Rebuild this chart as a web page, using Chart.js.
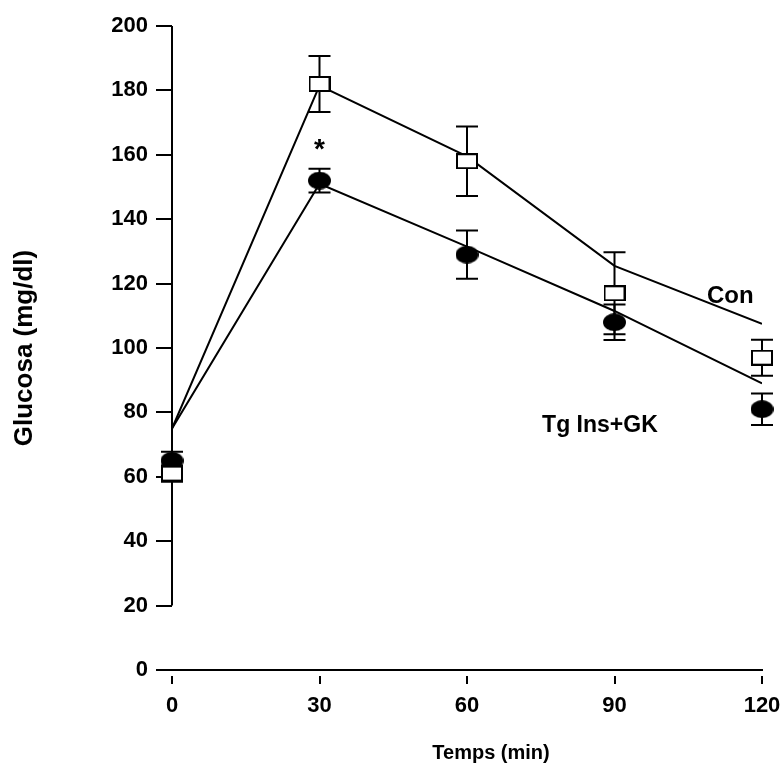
<!DOCTYPE html>
<html>
<head>
<meta charset="utf-8">
<script src="https://cdn.jsdelivr.net/npm/chart.js@4.4.1/dist/chart.umd.min.js"></script>
<style>
  html, body { margin: 0; padding: 0; background: #fff; }
  #wrap { width: 782px; height: 773px; }
</style>
</head>
<body>
<div id="wrap"><canvas id="glucoseChart"></canvas></div>
<script>
// sampling times (min)
const times = [0, 30, 60, 90, 120];
// Con group: mean and error bar
const conMean = [61, 182, 158, 117, 97];
const conErr = [2.5, 8.7, 10.8, 12.7, 5.6];
// Tg Ins+GK group: mean and error bar
const tgMean = [65, 152, 129, 108, 81];
const tgErr = [2.8, 3.7, 7.5, 5.5, 4.9];
// the drawn curves (they do not go through the points)
const conCurve = [75, 181.5, 159.5, 125.5, 107.5];
const tgCurve = [75, 151, 131.5, 111.5, 89];
// axis ticks
const xTicks = [0, 30, 60, 90, 120];
const yTicks = [0, 20, 40, 60, 80, 100, 120, 140, 160, 180, 200];

const FONT = "'Liberation Sans', Arial, sans-serif";

// open box marker for Con
function makeBox() {
  const c = document.createElement('canvas');
  c.width = 22; c.height = 16;
  const g = c.getContext('2d');
  g.fillStyle = '#fff';
  g.fillRect(1, 1, 20, 14);
  g.lineWidth = 2;
  g.strokeStyle = '#000';
  g.strokeRect(1, 1, 20, 14);
  return c;
}

// filled oval marker for Tg
function makeDot() {
  const c = document.createElement('canvas');
  c.width = 23; c.height = 18;
  const g = c.getContext('2d');
  g.fillStyle = '#000';
  g.beginPath();
  g.ellipse(11.5, 9, 11.5, 9, 0, 0, 2 * Math.PI);
  g.fill();
  return c;
}

function pts(vals) {
  return times.map((t, i) => ({ x: t, y: vals[i] }));
}

// error bars + broken y axis, drawn under the markers
const errorBars = {
  id: 'errorBars',
  beforeDatasetsDraw(chart) {
    const ctx = chart.ctx;
    const x = chart.scales.x, y = chart.scales.y;
    ctx.save();
    ctx.strokeStyle = '#000';
    ctx.lineWidth = 2;
    ctx.beginPath();
    ctx.moveTo(x.getPixelForValue(0), y.getPixelForValue(200));
    ctx.lineTo(x.getPixelForValue(0), y.getPixelForValue(20));
    ctx.stroke();
    [[conMean, conErr], [tgMean, tgErr]].forEach(function(pair) {
      const m = pair[0], e = pair[1];
      times.forEach(function(t, i) {
        const px = x.getPixelForValue(t);
        const top = y.getPixelForValue(m[i] + e[i]);
        const bot = y.getPixelForValue(m[i] - e[i]);
        ctx.beginPath();
        ctx.moveTo(px, top); ctx.lineTo(px, bot);
        ctx.moveTo(px - 11, top); ctx.lineTo(px + 11, top);
        ctx.moveTo(px - 11, bot); ctx.lineTo(px + 11, bot);
        ctx.stroke();
      });
    });
    ctx.restore();
  }
};

// text labels inside the plot
const notes = [
  { text: '*', t: 30, v: 161.5, align: 'center', size: 28 },
  { text: 'Con', t: 108.8, v: 116, align: 'left', size: 24 },
  { text: 'Tg Ins+GK', t: 98.8, v: 76, align: 'right', size: 23 }
];
const noteLabels = {
  id: 'noteLabels',
  afterDatasetsDraw(chart) {
    const ctx = chart.ctx;
    const x = chart.scales.x, y = chart.scales.y;
    const area = chart.chartArea;
    ctx.save();
    ctx.fillStyle = '#000';
    ctx.textBaseline = 'middle';
    notes.forEach(function(n) {
      ctx.font = 'bold ' + n.size + 'px ' + FONT;
      ctx.textAlign = n.align;
      ctx.fillText(n.text, x.getPixelForValue(n.t), y.getPixelForValue(n.v));
    });
    // x axis title, sits a bit right of centre in the original
    ctx.font = 'bold 20px ' + FONT;
    ctx.textAlign = 'center';
    ctx.fillText('Temps (min)', (area.left + area.right) / 2 + 24, 753);
    ctx.restore();
  }
};

const ctx = document.getElementById('glucoseChart').getContext('2d');
const chart = new Chart(ctx, {
  type: 'line',
  data: {
    datasets: [
      {
        label: 'Con',
        data: pts(conMean),
        showLine: false,
        pointStyle: makeBox(),
        pointRadius: 10,
        clip: false,
        order: 0
      },
      {
        label: 'Tg Ins+GK',
        data: pts(tgMean),
        showLine: false,
        pointStyle: makeDot(),
        pointRadius: 10,
        clip: false,
        order: 0
      },
      {
        label: 'Con curve',
        data: pts(conCurve),
        borderColor: '#000',
        borderWidth: 2,
        pointRadius: 0,
        tension: 0,
        fill: false,
        order: 1
      },
      {
        label: 'Tg curve',
        data: pts(tgCurve),
        borderColor: '#000',
        borderWidth: 2,
        pointRadius: 0,
        tension: 0,
        fill: false,
        order: 1
      }
    ]
  },
  options: {
    responsive: true,
    maintainAspectRatio: false,
    animation: false,
    events: [],
    layout: { padding: { top: 26, right: 20, left: 0, bottom: 0 } },
    plugins: {
      legend: { display: false },
      tooltip: { enabled: false }
    },
    scales: {
      x: {
        type: 'linear',
        min: 0,
        max: 120,
        afterBuildTicks: function(s) { s.ticks = xTicks.map(v => ({ value: v })); },
        afterFit: function(s) { s.height = 103; },
        border: { display: true, color: '#000', width: 2 },
        grid: {
          drawOnChartArea: false,
          color: '#000',
          lineWidth: 2,
          tickLength: 22,
          tickBorderDash: [0, 5, 8, 100]
        },
        ticks: {
          color: '#000',
          padding: 1,
          maxRotation: 0,
          font: { family: FONT, size: 22, weight: 'bold' }
        },
        title: { display: false }
      },
      y: {
        type: 'linear',
        min: 0,
        max: 200,
        afterBuildTicks: function(s) { s.ticks = yTicks.map(v => ({ value: v })); },
        afterFit: function(s) { s.width = 172; },
        border: { display: false },
        grid: {
          drawOnChartArea: false,
          color: '#000',
          lineWidth: 2,
          tickLength: 16
        },
        ticks: {
          color: '#000',
          padding: 8,
          font: { family: FONT, size: 22, weight: 'bold' }
        },
        title: {
          display: true,
          text: 'Glucosa (mg/dl)',
          color: '#000',
          padding: { top: 9, bottom: 0 },
          font: { family: FONT, size: 26, weight: 'bold' }
        }
      }
    }
  },
  plugins: [errorBars, noteLabels]
});
</script>
</body>
</html>
